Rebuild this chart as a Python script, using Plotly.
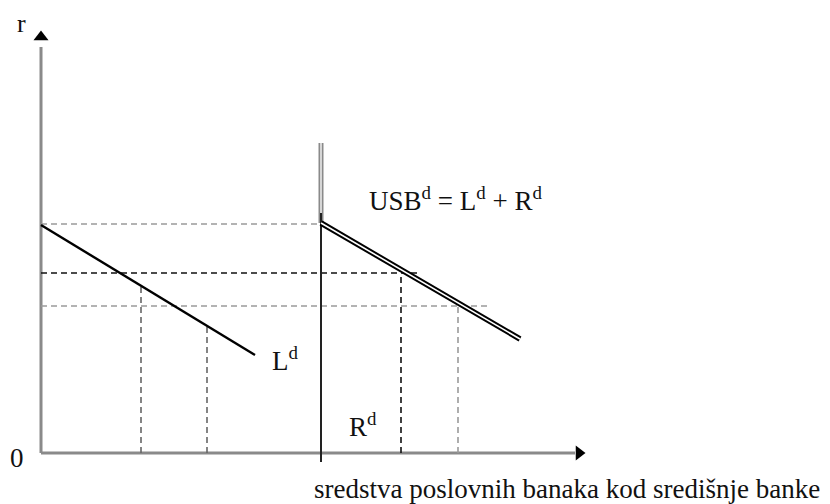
import plotly.graph_objects as go

# ----------------------
# Data (arbitrary units: quantity on x, interest rate r on y)
# ----------------------

# loan demand L^d
ld_q = [0.0, 21.4]
ld_r = [22.8, 9.8]

# total demand for central bank funds USB^d = L^d + R^d
usb_q = [28.0, 47.9]
usb_r = [23.0, 11.4]

# reserve demand R^d (vertical)
rd_q = [28.0, 28.0]
rd_r = [-0.9, 24.0]
rd_top_r = [23.0, 31.0]

# interest rate levels (dashed horizontals) and how far they run
rate_levels = [22.9, 18.0, 14.7]
rate_ends = [28.0, 37.9, 44.7]
rate_colors = ["#9a9a9a", "#111111", "#9a9a9a"]

# quantity levels (dashed verticals) and their tops
qty_levels = [10.0, 16.6, 36.0, 41.7]
qty_tops = [16.8, 12.7, 18.0, 14.7]
qty_colors = ["#666666", "#666666", "#111111", "#9a9a9a"]

# axes
y_axis_top = 40.6
x_axis_end = 53.4

FONT = "Liberation Serif, Times New Roman, serif"

fig = go.Figure()

# axes lines
fig.add_trace(go.Scatter(x=[0, 0], y=[0, y_axis_top], mode="lines",
                         line=dict(color="#8a8a8a", width=3)))
fig.add_trace(go.Scatter(x=[0, x_axis_end], y=[0, 0], mode="lines",
                         line=dict(color="#8a8a8a", width=3)))
# arrow heads
fig.add_trace(go.Scatter(x=[0], y=[y_axis_top + 1.0], mode="markers",
                         marker=dict(symbol="triangle-up", size=13, color="black")))
fig.add_trace(go.Scatter(x=[x_axis_end + 0.4], y=[0], mode="markers",
                         marker=dict(symbol="triangle-right", size=13, color="black")))

# dashed horizontals
for r, end, c in zip(rate_levels, rate_ends, rate_colors):
    fig.add_trace(go.Scatter(x=[0, end], y=[r, r], mode="lines",
                             line=dict(color=c, width=1.6, dash="6px,4px")))

# dashed verticals
for q, top, c in zip(qty_levels, qty_tops, qty_colors):
    fig.add_trace(go.Scatter(x=[q, q], y=[0, top], mode="lines",
                             line=dict(color=c, width=1.6, dash="6px,4px")))

# L^d
fig.add_trace(go.Scatter(x=ld_q, y=ld_r, mode="lines",
                         line=dict(color="black", width=2.4)))

# R^d vertical, double gray on top
fig.add_trace(go.Scatter(x=rd_q, y=rd_top_r, mode="lines",
                         line=dict(color="#8a8a8a", width=5)))
fig.add_trace(go.Scatter(x=rd_q, y=rd_top_r, mode="lines",
                         line=dict(color="white", width=1.3)))
fig.add_trace(go.Scatter(x=rd_q, y=rd_r, mode="lines",
                         line=dict(color="#222222", width=2)))

# USB^d double line
fig.add_trace(go.Scatter(x=usb_q, y=usb_r, mode="lines",
                         line=dict(color="black", width=5.5)))
fig.add_trace(go.Scatter(x=usb_q, y=usb_r, mode="lines",
                         line=dict(color="white", width=1.6)))

# labels
def label(x, y, text, xanchor="left", size=27):
    fig.add_annotation(x=x, y=y, text=text, showarrow=False, xanchor=xanchor,
                       yanchor="middle", font=dict(family=FONT, size=size, color="#111111"))

label(-2.0, 43.0, "r", xanchor="center", size=26)
label(-2.4, -0.5, "0", xanchor="center")
label(22.9, 9.4, "L<sup>d</sup>")
label(30.6, 2.8, "R<sup>d</sup>")
label(32.6, 25.4, "USB<sup>d</sup> = L<sup>d</sup> + R<sup>d</sup>")
label(27.1, -3.6, "sredstva poslovnih banaka kod središnje banke")

# page body has an 8px margin, so the figure is 8px smaller on each side
fig.update_layout(
    width=822, height=496,
    margin=dict(l=0, r=0, t=0, b=0, pad=0),
    showlegend=False,
    plot_bgcolor="white",
    paper_bgcolor="white",
    xaxis=dict(range=[-3.3, 78.9], visible=False, fixedrange=True),
    yaxis=dict(range=[-5.1, 44.5], visible=False, fixedrange=True),
)
fig.update_traces(cliponaxis=False, hoverinfo="skip")

fig.write_html("out.html")
